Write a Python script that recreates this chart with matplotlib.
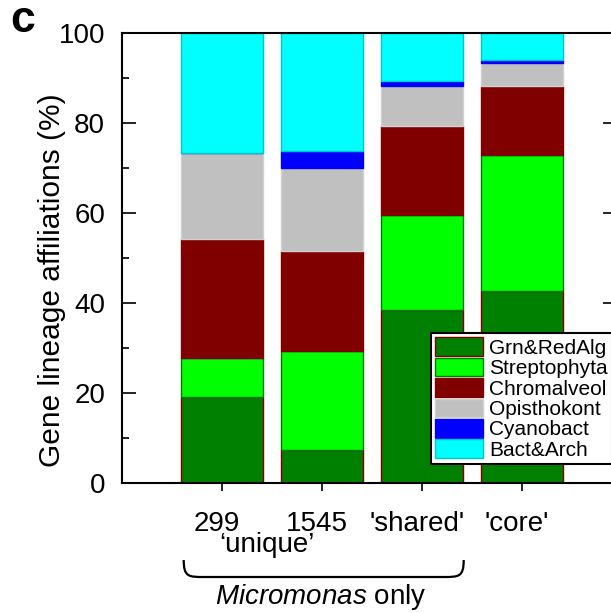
import matplotlib
matplotlib.use("Agg")
import matplotlib.pyplot as plt
from matplotlib.path import Path
from matplotlib.patches import PathPatch
from matplotlib.transforms import blended_transform_factory, ScaledTranslation
import numpy as np

plt.rcParams['font.family'] = ['Liberation Sans', 'DejaVu Sans']
plt.rcParams['mathtext.fontset'] = 'custom'
plt.rcParams['mathtext.it'] = 'Liberation Sans:italic'
plt.rcParams['mathtext.rm'] = 'Liberation Sans'

# ---- data ----
categories = ["299", "1545", "'shared'", "'core'"]
series_names = ["Grn&RedAlg", "Streptophyta", "Chromalveol", "Opisthokont", "Cyanobact", "Bact&Arch"]
grn_redalg   = [19.1, 7.2, 38.4, 42.7]
streptophyta = [8.6, 22.1, 21.2, 30.2]
chromalveol  = [26.5, 22.3, 19.8, 15.3]
opisthokont  = [19.2, 18.5, 8.9, 5.3]
cyanobact    = [0.0, 3.7, 1.1, 0.6]
bact_arch    = [26.6, 26.2, 10.6, 5.9]
yticks = [0, 20, 40, 60, 80, 100]

series = [grn_redalg, streptophyta, chromalveol, opisthokont, cyanobact, bact_arch]
colors = ['#008000', '#00ff00', '#800000', '#c0c0c0', '#0000ff', '#00ffff']
edges  = ['#800000', '#007a00', '#800000', '#d0d0d0', '#0000ff', '#00c8c8']

fig = plt.figure(figsize=(6.11, 6.13), dpi=100)
ax = fig.add_axes([121.7/611, 1-482.7/613, (617-121.7)/611, (482.7-33.3)/613])

x = np.arange(1, len(categories)+1)
bottom = np.zeros(len(categories))
handles = []
for vals, name, c, e in zip(series, series_names, colors, edges):
    v = np.array(vals)
    b = ax.bar(x, v, width=0.82, bottom=bottom, color=c, edgecolor=e,
               linewidth=1.0, label=name, zorder=2)
    handles.append(b)
    bottom = bottom + v

ax.set_xlim(0, (617-121.7)/100)
ax.set_ylim(0, 100)
ax.set_yticks(yticks)
ax.set_yticks(np.arange(10, 100, 20), minor=True)
ax.set_xticks(x)
ax.set_xticklabels(categories)
ax.tick_params(axis='y', which='major', direction='in', length=10, width=1.2,
               labelsize=20, pad=12, right=True)
ax.tick_params(axis='y', which='minor', direction='in', length=5, width=1.2, right=False)
ax.tick_params(axis='x', which='major', direction='out', length=6, width=1.2,
               labelsize=20, pad=14.5)
shift = ScaledTranslation(-5/100, 0, fig.dpi_scale_trans)
for lab in ax.get_xticklabels():
    lab.set_transform(lab.get_transform() + shift)
for s in ax.spines.values():
    s.set_linewidth(1.5)

ax.set_ylabel("Gene lineage affiliations (%)", fontsize=21.5)
ax.yaxis.set_label_coords(-0.1125, 0.451)

leg = ax.legend(handles=handles, loc='upper left',
                bbox_to_anchor=(431/611, 1-333/613), bbox_transform=fig.transFigure,
                borderaxespad=0, fontsize=15, fancybox=False, framealpha=1,
                edgecolor='black', handlelength=2.3, handleheight=1.0,
                handletextpad=0.3, labelspacing=0.0, borderpad=0.2)
leg.get_frame().set_linewidth(1.5)
leg.set_zorder(5)

# bracket under bars
tr = blended_transform_factory(ax.transData, fig.transFigure)
x0, x1 = 0.62, 3.42
ytop, ybot = (613-560)/613, (613-577)/613
verts = [(x0, ytop), (x0, ybot), (x0+0.05, ybot), (x0+0.2, ybot),
         (x1-0.2, ybot),
         (x1-0.05, ybot), (x1, ybot), (x1, ytop)]
codes = [Path.MOVETO, Path.CURVE4, Path.CURVE4, Path.CURVE4,
         Path.LINETO,
         Path.CURVE4, Path.CURVE4, Path.CURVE4]
fig.add_artist(PathPatch(Path(verts, codes), transform=tr, fill=False,
                         edgecolor='black', linewidth=1.6, clip_on=False))

fig.text(1.45, (613-545)/613, "\u2018unique\u2019", transform=tr, ha='center',
         va='center', fontsize=20)
fig.text(1.99, (613-597)/613, r"$\mathit{Micromonas}$ only", transform=tr,
         ha='center', va='center', fontsize=20)

fig.text(23/611, 1-21/613, "c", fontsize=32, fontweight='bold', ha='center', va='center')

fig.savefig("out.png", dpi=100)
